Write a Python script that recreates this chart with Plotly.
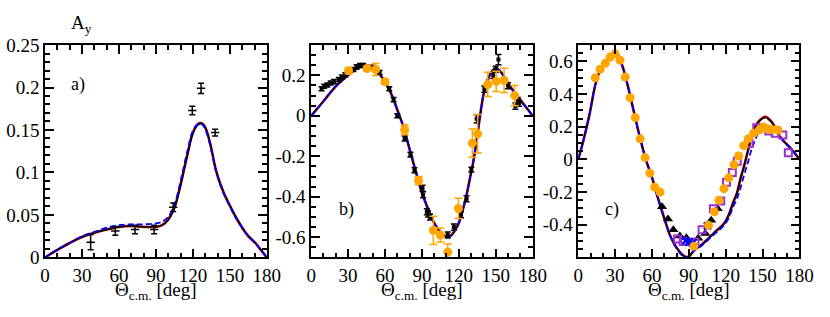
import plotly.graph_objects as go

# ---------------- Panel a ----------------
theta_a = [0, 10, 20, 30, 40, 50, 60, 70, 80, 90, 95, 100, 105, 110, 115, 120, 124, 127, 130, 134, 139, 145, 150, 155, 160, 165, 171, 175, 180]
solid_a = [0, 0.009, 0.017, 0.024, 0.029, 0.033, 0.036, 0.037, 0.036, 0.036, 0.038, 0.044, 0.058, 0.085, 0.117, 0.146, 0.156, 0.158, 0.153, 0.134, 0.101, 0.076, 0.061, 0.047, 0.035, 0.025, 0.0165, 0.009, 0]
red_a = [0, 0.009, 0.017, 0.024, 0.029, 0.033, 0.036, 0.037, 0.036, 0.036, 0.038, 0.045, 0.059, 0.086, 0.118, 0.147, 0.157, 0.158, 0.153, 0.134, 0.101, 0.076, 0.061, 0.047, 0.035, 0.025, 0.0165, 0.009, 0]
dash_a = [0, 0.009, 0.017, 0.025, 0.030, 0.035, 0.038, 0.039, 0.039, 0.040, 0.042, 0.048, 0.062, 0.090, 0.122, 0.149, 0.157, 0.157, 0.151, 0.132, 0.100, 0.075, 0.060, 0.046, 0.035, 0.025, 0.016, 0.009, 0]
data_a_theta = [37, 57, 73, 88.5, 104, 119.5, 126.6, 138]
data_a_val = [0.018, 0.031, 0.033, 0.033, 0.059, 0.173, 0.199, 0.147]
data_a_err = [0.009, 0.005, 0.005, 0.005, 0.005, 0.005, 0.006, 0.004]

# ---------------- Panel b ----------------
theta_b = [0, 5, 10, 15, 20, 25, 30, 35, 40, 43, 46, 50, 55, 60, 65, 70, 75, 80, 85, 90, 95, 100, 105, 110, 113, 117, 120, 123, 126, 130, 132, 135, 138, 141, 145, 148, 150, 152, 155, 160, 165, 170, 175, 180]
solid_b = [0, 0.036, 0.072, 0.11, 0.146, 0.175, 0.2, 0.225, 0.243, 0.248, 0.247, 0.237, 0.21, 0.168, 0.11, 0.03, -0.055, -0.165, -0.275, -0.38, -0.46, -0.53, -0.575, -0.597, -0.595, -0.565, -0.53, -0.47, -0.4, -0.28, -0.22, -0.1, 0.03, 0.13, 0.2, 0.228, 0.235, 0.23, 0.21, 0.16, 0.118, 0.078, 0.04, 0]
dash_b = [0, 0.035, 0.071, 0.109, 0.145, 0.175, 0.201, 0.226, 0.244, 0.249, 0.248, 0.238, 0.212, 0.17, 0.112, 0.032, -0.053, -0.163, -0.273, -0.378, -0.458, -0.528, -0.573, -0.595, -0.593, -0.563, -0.528, -0.468, -0.398, -0.278, -0.218, -0.098, 0.032, 0.132, 0.202, 0.228, 0.234, 0.229, 0.209, 0.159, 0.117, 0.077, 0.039, 0]
black_b_theta = [8.5, 10.6, 13.2, 15.9, 18.5, 22.5, 25, 27.8, 34.4, 37, 39.7, 42.3, 49, 55.6, 63.5, 67, 70, 76, 80.7, 84, 90.5, 91, 94, 95, 96.6, 111, 116, 121.8, 126.3, 130.2, 134.5, 140.8, 148, 150, 152.2, 160, 166, 168, 169]
black_b_val = [0.134, 0.146, 0.152, 0.162, 0.169, 0.18, 0.192, 0.203, 0.229, 0.242, 0.249, 0.249, 0.24, 0.214, 0.134, 0.08, 0.0, -0.112, -0.192, -0.269, -0.358, -0.39, -0.474, -0.485, -0.5, -0.589, -0.55, -0.489, -0.41, -0.266, -0.015, 0.132, 0.2, 0.23, 0.278, 0.149, 0.048, 0.075, 0.062]
black_b_err = [0.01, 0.01, 0.01, 0.01, 0.01, 0.01, 0.01, 0.01, 0.01, 0.01, 0.01, 0.01, 0.01, 0.01, 0.01, 0.01, 0.01, 0.012, 0.012, 0.012, 0.015, 0.015, 0.015, 0.015, 0.015, 0.015, 0.015, 0.015, 0.015, 0.012, 0.02, 0.015, 0.015, 0.015, 0.025, 0.015, 0.015, 0.015, 0.015]
orange_b_theta = [30.4, 45.5, 52.4, 60, 76, 87.3, 99.3, 105, 111, 119.7, 131, 135.3, 143.5, 150.4, 156.8, 165.4]
orange_b_val = [0.223, 0.234, 0.229, 0.168, -0.069, -0.32, -0.566, -0.589, -0.674, -0.458, -0.135, -0.089, 0.155, 0.17, 0.175, 0.10]
orange_b_err = [0.015, 0.012, 0.03, 0.012, 0.025, 0.02, 0.07, 0.035, 0.04, 0.05, 0.07, 0.095, 0.06, 0.05, 0.06, 0.05]

# ---------------- Panel c ----------------
theta_c = [0, 4, 9, 14, 18, 22, 26, 29, 32, 36, 40, 45, 50, 55, 60, 65, 70, 75, 80, 85, 88, 90, 95, 100, 106, 112, 119, 123, 126, 129, 132, 135, 138, 141, 144, 147, 150, 152.5, 155, 158, 161, 164, 168, 172, 176, 180]
solid_c = [0, 0.11, 0.27, 0.46, 0.55, 0.6, 0.635, 0.65, 0.64, 0.57, 0.46, 0.3, 0.14, 0.0, -0.11, -0.24, -0.36, -0.47, -0.54, -0.585, -0.598, -0.595, -0.55, -0.525, -0.483, -0.44, -0.39, -0.33, -0.265, -0.21, -0.12, -0.04, 0.05, 0.135, 0.195, 0.23, 0.25, 0.256, 0.245, 0.222, 0.18, 0.14, 0.105, 0.075, 0.04, 0]
red_c = [0, 0.11, 0.27, 0.46, 0.55, 0.6, 0.635, 0.65, 0.64, 0.57, 0.46, 0.3, 0.14, 0.0, -0.11, -0.24, -0.36, -0.47, -0.54, -0.585, -0.598, -0.595, -0.55, -0.525, -0.483, -0.44, -0.39, -0.33, -0.265, -0.21, -0.12, -0.04, 0.05, 0.137, 0.198, 0.234, 0.254, 0.26, 0.249, 0.225, 0.182, 0.141, 0.105, 0.075, 0.04, 0]
dash_c = [0, 0.11, 0.27, 0.46, 0.55, 0.6, 0.635, 0.65, 0.64, 0.57, 0.46, 0.3, 0.14, 0.0, -0.11, -0.24, -0.36, -0.47, -0.545, -0.59, -0.598, -0.592, -0.555, -0.53, -0.49, -0.45, -0.4, -0.35, -0.29, -0.245, -0.175, -0.095, -0.02, 0.06, 0.118, 0.17, 0.193, 0.199, 0.2, 0.195, 0.17, 0.14, 0.105, 0.075, 0.04, 0]
orange_c_theta = [13.8, 17.8, 22, 26, 30, 34, 38.2, 42.2, 46.4, 50.4, 54.4, 58.3, 62.3, 66.6, 94.1, 106, 110.8, 114.6, 118.6, 122.5, 126.8, 130.5, 134.7, 138.4, 142.7, 147.3, 150.6, 153.8, 157.8, 162.6]
orange_c_val = [0.499, 0.552, 0.588, 0.627, 0.646, 0.607, 0.504, 0.378, 0.256, 0.126, 0.011, -0.084, -0.17, -0.2, -0.531, -0.403, -0.321, -0.25, -0.179, -0.113, -0.033, 0.021, 0.084, 0.126, 0.16, 0.18, 0.199, 0.187, 0.183, 0.18]
tri_c_theta = [68.2, 73, 77.4, 82.7, 88, 97.6, 103.4, 108.2, 113.5]
tri_c_val = [-0.29, -0.365, -0.43, -0.468, -0.479, -0.483, -0.454, -0.372, -0.302]
sq_c_theta = [80.9, 85.4, 95, 100.8, 110, 116, 120.7, 125.4, 129.4, 139, 145.3, 155.1, 160.4, 166.5, 171]
sq_c_val = [-0.487, -0.502, -0.506, -0.43, -0.302, -0.254, -0.14, -0.08, -0.011, 0.097, 0.193, 0.174, 0.16, 0.149, 0.04]
x_c_theta = [87.5, 90.2, 92.8, 105.2]
x_c_val = [-0.497, -0.506, -0.512, -0.407]

x_ticks = [0, 30, 60, 90, 120, 150, 180]
y_ticks_a = [0, 0.05, 0.1, 0.15, 0.2, 0.25]
y_text_a = ["0", "0.05", "0.1", "0.15", "0.2", "0.25"]
y_ticks_b = [-0.6, -0.4, -0.2, 0, 0.2]
y_text_b = ["-0.6", "-0.4", "-0.2", "0", "0.2"]
y_ticks_c = [-0.4, -0.2, 0, 0.2, 0.4, 0.6]
y_text_c = ["-0.4", "-0.2", "0", "0.2", "0.4", "0.6"]

ORANGE = "#ffa500"
PURPLE = "#9a30d0"
FONT = "'Liberation Serif', 'Times New Roman', Times, serif"

fig = go.Figure()

def curves(sfx, th, red, black, dash):
    fig.add_trace(go.Scatter(x=th, y=red, mode="lines", line=dict(color="#d00000", width=2.6, shape="spline"), xaxis="x" + sfx, yaxis="y" + sfx))
    fig.add_trace(go.Scatter(x=th, y=black, mode="lines", line=dict(color="black", width=1.6, shape="spline"), xaxis="x" + sfx, yaxis="y" + sfx))
    fig.add_trace(go.Scatter(x=th, y=dash, mode="lines", line=dict(color="#0000ff", width=1.8, dash="6px,3px", shape="spline"), xaxis="x" + sfx, yaxis="y" + sfx))

# panel a
curves("", theta_a, red_a, solid_a, dash_a)
fig.add_trace(go.Scatter(x=data_a_theta, y=data_a_val, mode="markers",
                         marker=dict(symbol="line-ew", size=6, line=dict(color="black", width=1.5)),
                         error_y=dict(type="data", array=data_a_err, color="black", thickness=1.5, width=3),
                         xaxis="x", yaxis="y"))

# panel b
curves("2", theta_b, solid_b, solid_b, dash_b)
fig.add_trace(go.Scatter(x=black_b_theta, y=black_b_val, mode="markers",
                         marker=dict(symbol="square", size=4, color="black"),
                         error_y=dict(type="data", array=black_b_err, color="black", thickness=1.5, width=3),
                         xaxis="x2", yaxis="y2"))
fig.add_trace(go.Scatter(x=orange_b_theta, y=orange_b_val, mode="markers",
                         marker=dict(symbol="circle", size=9, color=ORANGE),
                         error_y=dict(type="data", array=orange_b_err, color=ORANGE, thickness=1.5, width=4),
                         xaxis="x2", yaxis="y2"))

# panel c
curves("3", theta_c, red_c, solid_c, dash_c)
fig.add_trace(go.Scatter(x=tri_c_theta, y=tri_c_val, mode="markers",
                         marker=dict(symbol="triangle-up", size=9, color="black"),
                         xaxis="x3", yaxis="y3"))
fig.add_trace(go.Scatter(x=sq_c_theta, y=sq_c_val, mode="markers",
                         marker=dict(symbol="square-open", size=7, color=PURPLE, line=dict(width=2)),
                         xaxis="x3", yaxis="y3"))
fig.add_trace(go.Scatter(x=x_c_theta, y=x_c_val, mode="markers",
                         marker=dict(symbol="x-thin", size=7, color="#0000ff", line=dict(width=2.5, color="#0000ff")),
                         xaxis="x3", yaxis="y3"))
fig.add_trace(go.Scatter(x=orange_c_theta, y=orange_c_val, mode="markers",
                         marker=dict(symbol="circle", size=9, color=ORANGE),
                         xaxis="x3", yaxis="y3"))

W, H = 830, 317
ybot, ytop = 265, 37.5
ydom = [(H - ybot) / H, (H - ytop) / H]
xdoms = [[41 / W, 268 / W], [313.3 / W, 540 / W], [586.7 / W, 813 / W]]
TICKSIZE = 19

def xaxis(dom, anchor):
    return dict(domain=dom, anchor=anchor, range=[0, 180], tickvals=x_ticks, ticks="inside",
                ticklen=9, tickwidth=1.5, tickcolor="black", showline=True, linecolor="black",
                linewidth=1.5, mirror="ticks", showgrid=False, zeroline=False,
                tickfont=dict(family=FONT, size=TICKSIZE, color="black"),
                minor=dict(dtick=10, ticks="inside", ticklen=5, tickwidth=1.5, tickcolor="black", showgrid=False))

def yaxis(anchor, rng, tv, tt, mdt):
    return dict(domain=ydom, anchor=anchor, range=rng, tickvals=tv, ticktext=tt, ticks="inside",
                ticklen=9, tickwidth=1.5, tickcolor="black", showline=True, linecolor="black",
                linewidth=1.5, mirror="ticks", showgrid=False, zeroline=False,
                tickfont=dict(family=FONT, size=TICKSIZE, color="black"),
                minor=dict(dtick=mdt, tick0=0, ticks="inside", ticklen=5, tickwidth=1.5, tickcolor="black", showgrid=False))

annotations = []
for dom in xdoms:
    annotations.append(dict(x=(dom[0] + dom[1]) / 2, y=(H - 301) / H, xref="paper", yref="paper",
                            xanchor="center", yanchor="middle",
                            text="Θ<sub>c.m.</sub> [deg]", showarrow=False,
                            font=dict(family=FONT, size=19, color="black")))
annotations.append(dict(x=66 / W, y=(H - 15) / H, xref="paper", yref="paper", xanchor="left", yanchor="middle",
                        text="A<sub>y</sub>", showarrow=False, font=dict(family=FONT, size=19, color="black")))
for lab, xp, yp in [("a)", 75, 80), ("b)", 349, 214), ("c)", 621, 214)]:
    annotations.append(dict(x=xp / W, y=(H - yp) / H, xref="paper", yref="paper", xanchor="center", yanchor="middle",
                            text=lab, showarrow=False, font=dict(family=FONT, size=18, color="black")))

fig.update_layout(
    width=W, height=H, margin=dict(l=0, r=0, t=0, b=0),
    paper_bgcolor="white", plot_bgcolor="white", showlegend=False,
    font=dict(family=FONT, color="black"),
    xaxis=xaxis(xdoms[0], "y"), xaxis2=xaxis(xdoms[1], "y2"), xaxis3=xaxis(xdoms[2], "y3"),
    yaxis=yaxis("x", [0, 0.25], y_ticks_a, y_text_a, 0.01),
    yaxis2=yaxis("x2", [-0.7, 0.35], y_ticks_b, y_text_b, 0.05),
    yaxis3=yaxis("x3", [-0.6, 0.7], y_ticks_c, y_text_c, 0.05),
    annotations=annotations,
)

fig.write_html("out.html", config={"displayModeBar": False},
               post_script="document.body.style.margin='0';document.body.style.padding='0';")
